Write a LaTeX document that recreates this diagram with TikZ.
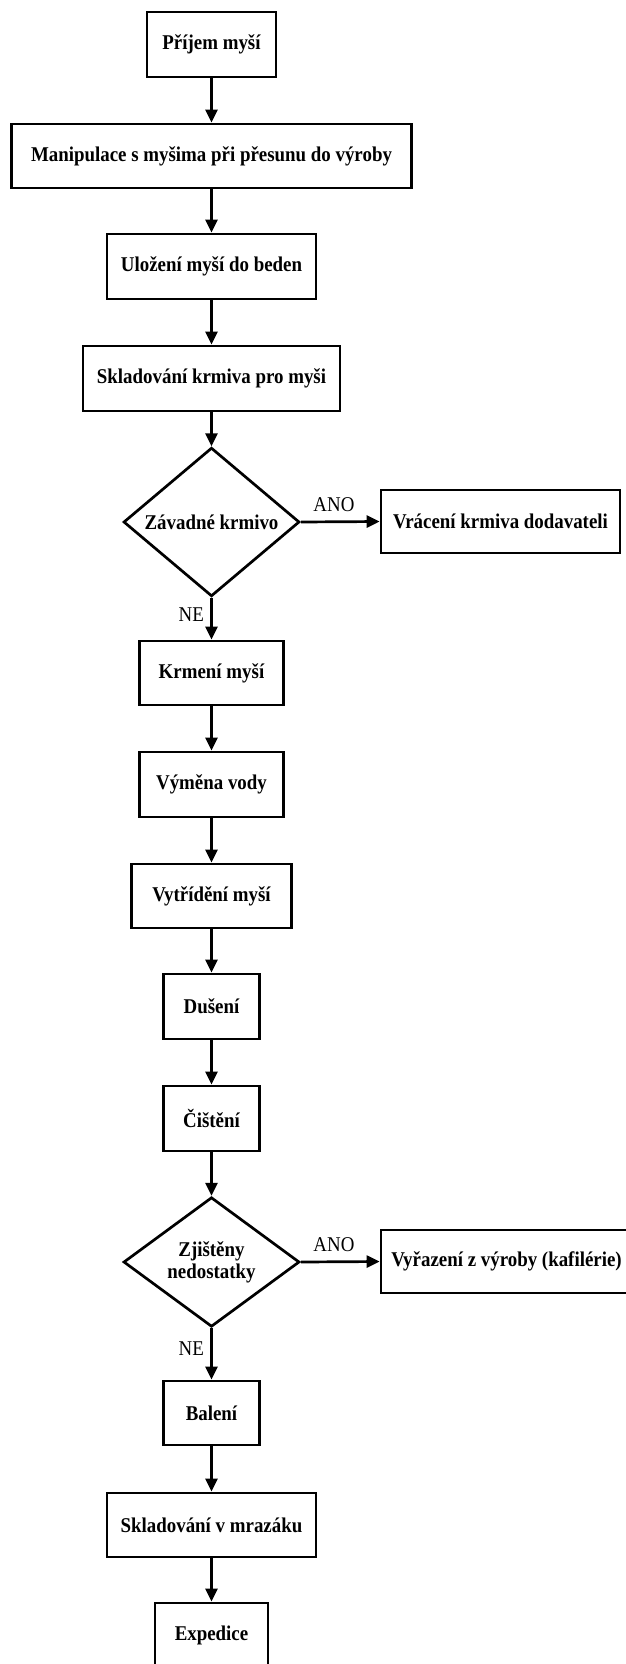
\documentclass[tikz,border=0pt]{standalone}
\usepackage{fontspec}
\setmainfont[FakeStretch=0.9]{Liberation Serif}
\usetikzlibrary{shapes.geometric,arrows.meta}
\begin{document}
\begin{tikzpicture}[x=1pt,y=-1pt,
  every node/.style={font=\fontsize{21}{22}\selectfont},
  procbox/.style={draw,line width=2.7pt,rectangle,inner sep=0pt,
    font=\fontsize{21}{22}\selectfont\bfseries,align=center},
  decision/.style={draw,line width=2.7pt,diamond,inner sep=0pt,
    minimum width=176pt,minimum height=127pt,
    font=\fontsize{21}{22}\selectfont\bfseries,align=center},
  flow/.style={line width=2.7pt,-{Triangle[length=13pt,width=12pt]}},
  branch/.style={font=\fontsize{21}{22}\selectfont}
]
\useasboundingbox (0,0) rectangle (626,1664);
\clip (0,0) rectangle (626,1664);

\node[procbox,minimum width=129pt,minimum height=65pt] (n1) at (211.5,44.5) {Příjem myší};
\node[procbox,minimum width=400pt,minimum height=64pt] (n2) at (211.5,156) {Manipulace s myšima při přesunu do výroby};
\node[procbox,minimum width=209pt,minimum height=65pt] (n3) at (211.5,266.5) {Uložení myší do beden};
\node[procbox,minimum width=257pt,minimum height=65pt] (n4) at (211.5,378.5) {Skladování krmiva pro myši};
\node[decision] (d1) at (211.5,522) {Závadné krmivo};
\node[procbox,minimum width=239pt,minimum height=63pt] (r1) at (500.5,521.5) {Vrácení krmiva dodavateli};
\node[procbox,minimum width=144pt,minimum height=64pt] (n5) at (211.5,673) {Krmení myší};
\node[procbox,minimum width=144pt,minimum height=65pt] (n6) at (211.5,784.5) {Výměna vody};
\node[procbox,minimum width=160pt,minimum height=64pt] (n7) at (211.5,896) {Vytřídění myší};
\node[procbox,minimum width=96pt,minimum height=65pt] (n8) at (211.5,1006.5) {Dušení};
\node[procbox,minimum width=96pt,minimum height=65pt] (n9) at (211.5,1118.5) {Čištění};
\node[decision] (d2) at (211.5,1262) {Zjištěny\\nedostatky};
\node[procbox,minimum width=251pt,minimum height=63pt] (r2) at (506.5,1261.5) {Vyřazení z výroby (kafilérie)};
\node[procbox,minimum width=96pt,minimum height=64pt] (n10) at (211.5,1413) {Balení};
\node[procbox,minimum width=209pt,minimum height=64pt] (n11) at (211.5,1525) {Skladování v mrazáku};
\node[procbox,minimum width=113pt,minimum height=64pt] (n12) at (211.5,1635) {Expedice};

\draw[flow] (n1) -- (n2);
\draw[flow] (n2) -- (n3);
\draw[flow] (n3) -- (n4);
\draw[flow] (n4) -- (d1);
\draw[flow] (d1.east) -- (r1.west) node[branch,pos=0.42,above=5pt] {ANO};
\draw[flow] (d1.south) -- (n5.north) node[branch,pos=0.4,left=3pt] {NE};
\draw[flow] (n5) -- (n6);
\draw[flow] (n6) -- (n7);
\draw[flow] (n7) -- (n8);
\draw[flow] (n8) -- (n9);
\draw[flow] (n9) -- (d2);
\draw[flow] (d2.east) -- (r2.west) node[branch,pos=0.42,above=5pt] {ANO};
\draw[flow] (d2.south) -- (n10.north) node[branch,pos=0.4,left=3pt] {NE};
\draw[flow] (n10) -- (n11);
\draw[flow] (n11) -- (n12);
\end{tikzpicture}
\end{document}
